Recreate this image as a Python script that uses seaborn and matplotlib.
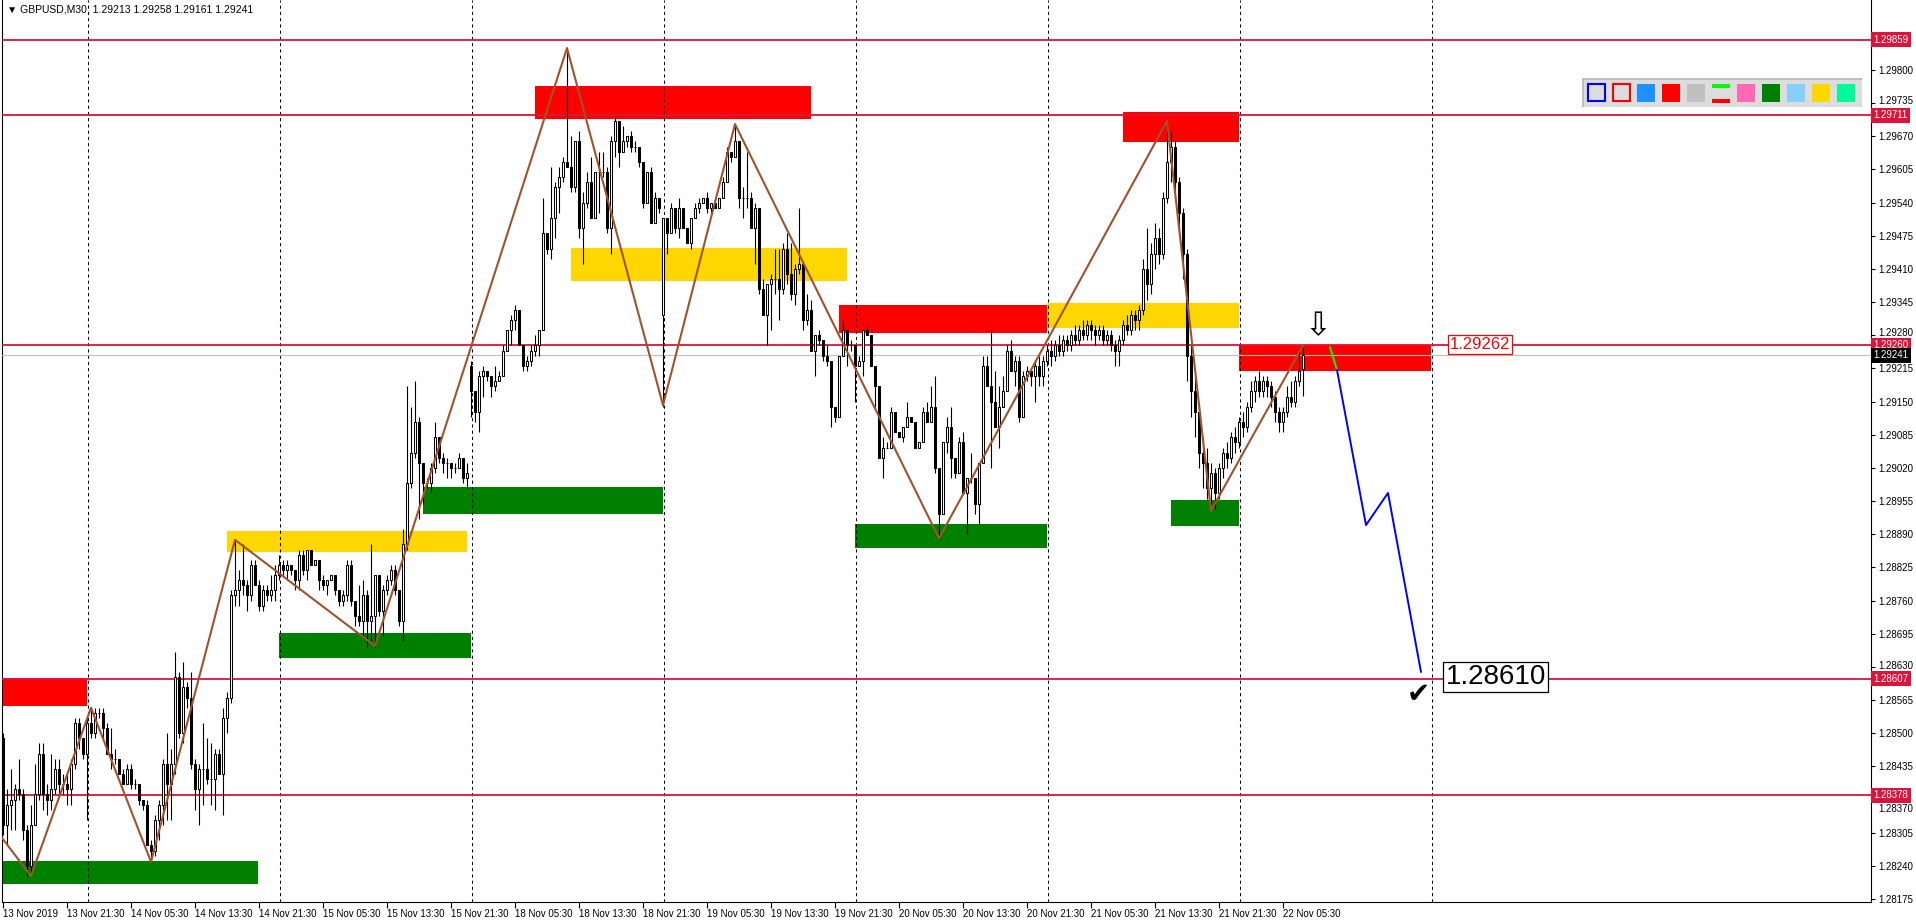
import numpy as np
import pandas as pd
import matplotlib
matplotlib.use('Agg')
import matplotlib.pyplot as plt
import matplotlib.transforms as mtransforms
from matplotlib.patches import Rectangle
import seaborn as sns

# GBPUSD M30 bars (open = previous close unless listed in gap_opens)
first_open = 1.2849
gap_opens = {117: 1.2922, 165: 1.2932, 325: 1.29213}

closes = [
    1.2832, 1.2836, 1.2837, 1.2839, 1.2838, 1.2831, 1.2824, 1.2832, 1.2838, 1.2846,
    1.2838, 1.2837, 1.2839, 1.2843, 1.2840, 1.2840, 1.2839, 1.2844, 1.2852, 1.2849,
    1.2846, 1.2852, 1.2850, 1.2854, 1.2854, 1.2851, 1.2846, 1.2845, 1.2845, 1.2842,
    1.2840, 1.2843, 1.2840, 1.2840, 1.2837, 1.2836, 1.2828, 1.2827, 1.2833, 1.2836,
    1.2844, 1.2840, 1.2844, 1.2861, 1.2850, 1.2859, 1.2857, 1.2844, 1.2839, 1.2843,
    1.2843, 1.2841, 1.2841, 1.2846, 1.2842, 1.2853, 1.2857, 1.2877, 1.2878, 1.2880,
    1.2879, 1.2877, 1.2883, 1.2879, 1.2875, 1.2878, 1.2877, 1.2878, 1.2881, 1.2883,
    1.2882, 1.2883, 1.2882, 1.2880, 1.2885, 1.2882, 1.2886, 1.2883, 1.2884, 1.2880,
    1.2879, 1.2880, 1.2881, 1.2878, 1.2876, 1.2877, 1.2883, 1.2876, 1.2873, 1.2872,
    1.2877, 1.2872, 1.2873, 1.2881, 1.2874, 1.2878, 1.2880, 1.2882, 1.2878, 1.2872,
    1.2887, 1.2899, 1.2905, 1.2911, 1.2903, 1.2899, 1.2899, 1.2902, 1.2908, 1.2904,
    1.2903, 1.2903, 1.2902, 1.2902, 1.2904, 1.2900, 1.2901, 1.2917, 1.2913, 1.2920,
    1.2921, 1.2920, 1.2918, 1.2919, 1.2920, 1.2925, 1.2929, 1.2931, 1.2933, 1.2926,
    1.2922, 1.2923, 1.2925, 1.2926, 1.2929, 1.2948, 1.2945, 1.2951, 1.2957, 1.2959,
    1.2962, 1.2961, 1.2957, 1.2966, 1.2949, 1.2954, 1.2958, 1.2951, 1.2960, 1.2960,
    1.2960, 1.2949, 1.2966, 1.2970, 1.2964, 1.2966, 1.2967, 1.2965, 1.2965, 1.2962,
    1.2954, 1.2960, 1.2950, 1.2955, 1.2953, 1.2951, 1.2948, 1.2953, 1.2949, 1.2953,
    1.2949, 1.2946, 1.2951, 1.2953, 1.2954, 1.2955, 1.2953, 1.2954, 1.2953, 1.2955,
    1.2958, 1.2964, 1.2963, 1.2966, 1.2955, 1.2955, 1.2955, 1.2949, 1.2953, 1.2937,
    1.2932, 1.2938, 1.2939, 1.2939, 1.2937, 1.2945, 1.2940, 1.2936, 1.2941, 1.2942,
    1.2931, 1.2933, 1.2925, 1.2928, 1.2927, 1.2924, 1.2923, 1.2914, 1.2912, 1.2924,
    1.2929, 1.2926, 1.2926, 1.2922, 1.2923, 1.2929, 1.2928, 1.2922, 1.2918, 1.2904,
    1.2906, 1.2906, 1.2913, 1.2909, 1.2908, 1.2910, 1.2912, 1.2911, 1.2906, 1.2907,
    1.2913, 1.2911, 1.2914, 1.2902, 1.2893, 1.2907, 1.2910, 1.2904, 1.2901, 1.2907,
    1.2897, 1.2900, 1.2900, 1.2895, 1.2903, 1.2922, 1.2918, 1.2915, 1.2910, 1.2914,
    1.2917, 1.2925, 1.2921, 1.2923, 1.2912, 1.2920, 1.2921, 1.2920, 1.2922, 1.2920,
    1.2923, 1.2925, 1.2924, 1.2926, 1.2925, 1.2927, 1.2926, 1.2928, 1.2927, 1.2929,
    1.2928, 1.2930, 1.2929, 1.2928, 1.2929, 1.2927, 1.2928, 1.2926, 1.2925, 1.2927,
    1.2930, 1.2929, 1.2932, 1.2931, 1.2933, 1.2941, 1.2938, 1.2944, 1.2947, 1.2944,
    1.2955, 1.2962, 1.2965, 1.2958, 1.2952, 1.2944, 1.2924, 1.2917, 1.2913, 1.2905,
    1.2903, 1.2898, 1.2901, 1.2897, 1.2902, 1.2905, 1.2904, 1.2908, 1.2907, 1.2911,
    1.2910, 1.2914, 1.2917, 1.2919, 1.2917, 1.2919, 1.2918, 1.2916, 1.2913, 1.2911,
    1.2913, 1.2916, 1.2915, 1.2919, 1.2921, 1.29241,
]
highs = [
    1.2850, 1.2839, 1.2843, 1.2840, 1.2845, 1.2839, 1.2832, 1.2836, 1.2844, 1.2848,
    1.2848, 1.2840, 1.2846, 1.2845, 1.2845, 1.2842, 1.2842, 1.2845, 1.2853, 1.2853,
    1.2849, 1.2853, 1.2855, 1.2855, 1.2855, 1.2855, 1.2852, 1.2851, 1.2847, 1.2845,
    1.2843, 1.2844, 1.2844, 1.2841, 1.2840, 1.2837, 1.2837, 1.2829, 1.2834, 1.2837,
    1.2845, 1.2850, 1.2847, 1.2866, 1.2862, 1.2864, 1.2860, 1.2862, 1.2845, 1.2844,
    1.2852, 1.2849, 1.2848, 1.2847, 1.2847, 1.2855, 1.2858, 1.2878, 1.2888, 1.2882,
    1.2887, 1.2880, 1.2884, 1.2884, 1.2880, 1.2879, 1.2879, 1.2881, 1.2883, 1.2885,
    1.2884, 1.2884, 1.2883, 1.2882, 1.2886, 1.2886, 1.2886, 1.2886, 1.2884, 1.2884,
    1.2881, 1.2880, 1.2881, 1.2881, 1.2878, 1.2878, 1.2884, 1.2884, 1.2876, 1.2879,
    1.2880, 1.2878, 1.2887, 1.2881, 1.2881, 1.2879, 1.2881, 1.2883, 1.2883, 1.2878,
    1.2890, 1.2918, 1.2914, 1.2919, 1.2912, 1.2903, 1.2900, 1.2903, 1.2911, 1.2908,
    1.2905, 1.2904, 1.2903, 1.2903, 1.2905, 1.2904, 1.2903, 1.2923, 1.2917, 1.2921,
    1.2922, 1.2921, 1.2920, 1.2922, 1.2921, 1.2926, 1.2929, 1.2932, 1.2934, 1.2933,
    1.2926, 1.2924, 1.2926, 1.2928, 1.2929, 1.2955, 1.2948, 1.2961, 1.2958, 1.2961,
    1.2963, 1.2984, 1.2967, 1.2966, 1.2968, 1.2956, 1.2960, 1.2963, 1.2960, 1.2964,
    1.2964, 1.2961, 1.2967, 1.2971, 1.2970, 1.2969, 1.2967, 1.2968, 1.2966, 1.2965,
    1.2962, 1.2960, 1.2961, 1.2956, 1.2955, 1.2951, 1.2951, 1.2954, 1.2953, 1.2955,
    1.2953, 1.2949, 1.2951, 1.2954, 1.2955, 1.2955, 1.2956, 1.2954, 1.2954, 1.2955,
    1.2959, 1.2965, 1.2964, 1.2969, 1.2966, 1.2957, 1.2964, 1.2956, 1.2954, 1.2953,
    1.2939, 1.2938, 1.2940, 1.2945, 1.2945, 1.2946, 1.2948, 1.2946, 1.2942, 1.2953,
    1.2942, 1.2936, 1.2935, 1.2928, 1.2929, 1.2927, 1.2926, 1.2923, 1.2914, 1.2924,
    1.2931, 1.2929, 1.2927, 1.2923, 1.2924, 1.2929, 1.2930, 1.2928, 1.2922, 1.2918,
    1.2908, 1.2907, 1.2914, 1.2913, 1.2909, 1.2910, 1.2915, 1.2912, 1.2911, 1.2907,
    1.2914, 1.2915, 1.2918, 1.2920, 1.2902, 1.2907, 1.2912, 1.2914, 1.2904, 1.2908,
    1.2909, 1.2900, 1.2905, 1.2900, 1.2903, 1.2924, 1.2924, 1.2929, 1.2921, 1.2918,
    1.2920, 1.2926, 1.2927, 1.2924, 1.2924, 1.2921, 1.2922, 1.2921, 1.2923, 1.2924,
    1.2924, 1.2926, 1.2927, 1.2927, 1.2928, 1.2928, 1.2928, 1.2929, 1.2930, 1.2930,
    1.2931, 1.2931, 1.2931, 1.2930, 1.2930, 1.2930, 1.2929, 1.2929, 1.2927, 1.2928,
    1.2931, 1.2932, 1.2933, 1.2933, 1.2934, 1.2943, 1.2949, 1.2946, 1.2950, 1.2949,
    1.2956, 1.2970, 1.2968, 1.2966, 1.2959, 1.2953, 1.2945, 1.2926, 1.2920, 1.2914,
    1.2908, 1.2906, 1.2903, 1.2902, 1.2903, 1.2906, 1.2907, 1.2909, 1.2910, 1.2912,
    1.2913, 1.2915, 1.2919, 1.2920, 1.2921, 1.2920, 1.2920, 1.2919, 1.2917, 1.2914,
    1.2914, 1.2918, 1.2919, 1.2920, 1.2925, 1.29258,
]
lows = [
    1.2830, 1.2828, 1.2831, 1.2831, 1.2837, 1.2829, 1.2822, 1.2822, 1.2832, 1.2837,
    1.2835, 1.2834, 1.2835, 1.2838, 1.2838, 1.2838, 1.2836, 1.2836, 1.2843, 1.2847,
    1.2845, 1.2833, 1.2849, 1.2849, 1.2853, 1.2849, 1.2846, 1.2843, 1.2844, 1.2842,
    1.2840, 1.2840, 1.2839, 1.2839, 1.2836, 1.2835, 1.2828, 1.2825, 1.2826, 1.2829,
    1.2832, 1.2833, 1.2833, 1.2842, 1.2849, 1.2848, 1.2855, 1.2843, 1.2835, 1.2832,
    1.2836, 1.2840, 1.2836, 1.2835, 1.2842, 1.2834, 1.2850, 1.2856, 1.2875, 1.2875,
    1.2877, 1.2874, 1.2876, 1.2879, 1.2874, 1.2874, 1.2876, 1.2876, 1.2876, 1.2880,
    1.2881, 1.2880, 1.2881, 1.2878, 1.2878, 1.2881, 1.2880, 1.2883, 1.2883, 1.2878,
    1.2878, 1.2877, 1.2880, 1.2877, 1.2875, 1.2875, 1.2876, 1.2875, 1.2871, 1.2871,
    1.2869, 1.2867, 1.2868, 1.2867, 1.2873, 1.2869, 1.2877, 1.2879, 1.2877, 1.2871,
    1.2868, 1.2886, 1.2898, 1.2904, 1.2892, 1.2895, 1.2898, 1.2897, 1.2901, 1.2903,
    1.2901, 1.2900, 1.2900, 1.2901, 1.2902, 1.2899, 1.2898, 1.2912, 1.2911, 1.2909,
    1.2916, 1.2919, 1.2916, 1.2917, 1.2919, 1.2920, 1.2925, 1.2926, 1.2929, 1.2926,
    1.2921, 1.2921, 1.2922, 1.2924, 1.2924, 1.2929, 1.2944, 1.2943, 1.2947, 1.2952,
    1.2958, 1.2961, 1.2956, 1.2956, 1.2947, 1.2942, 1.2953, 1.2951, 1.2951, 1.2952,
    1.2959, 1.2948, 1.2944, 1.2963, 1.2961, 1.2964, 1.2965, 1.2964, 1.2964, 1.2961,
    1.2953, 1.2954, 1.2950, 1.2950, 1.2952, 1.2914, 1.2944, 1.2948, 1.2948, 1.2947,
    1.2949, 1.2946, 1.2945, 1.2951, 1.2952, 1.2954, 1.2952, 1.2952, 1.2953, 1.2953,
    1.2955, 1.2958, 1.2962, 1.2963, 1.2953, 1.2951, 1.2953, 1.2949, 1.2942, 1.2936,
    1.2932, 1.2926, 1.2929, 1.2936, 1.2931, 1.2936, 1.2938, 1.2935, 1.2934, 1.2940,
    1.2929, 1.2930, 1.2925, 1.2920, 1.2926, 1.2923, 1.2922, 1.2910, 1.2911, 1.2912,
    1.2924, 1.2922, 1.2925, 1.2915, 1.2922, 1.2920, 1.2928, 1.2922, 1.2914, 1.2904,
    1.2900, 1.2906, 1.2906, 1.2909, 1.2908, 1.2907, 1.2910, 1.2911, 1.2906, 1.2906,
    1.2907, 1.2911, 1.2911, 1.2901, 1.2888, 1.2893, 1.2905, 1.2900, 1.2900, 1.2901,
    1.2897, 1.2889, 1.2899, 1.2893, 1.2891, 1.2903, 1.2918, 1.2902, 1.2910, 1.2906,
    1.2914, 1.2917, 1.2921, 1.2918, 1.2911, 1.2912, 1.2919, 1.2918, 1.2915, 1.2918,
    1.2918, 1.2922, 1.2922, 1.2923, 1.2924, 1.2924, 1.2925, 1.2925, 1.2926, 1.2926,
    1.2927, 1.2927, 1.2927, 1.2926, 1.2927, 1.2926, 1.2926, 1.2925, 1.2922, 1.2922,
    1.2926, 1.2928, 1.2928, 1.2929, 1.2929, 1.2932, 1.2935, 1.2936, 1.2941, 1.2942,
    1.2943, 1.2954, 1.2958, 1.2955, 1.2948, 1.2939, 1.2919, 1.2912, 1.2908, 1.2902,
    1.2898, 1.2896, 1.2895, 1.2894, 1.2896, 1.2900, 1.2902, 1.2903, 1.2905, 1.2906,
    1.2908, 1.2909, 1.2913, 1.2915, 1.2916, 1.2916, 1.2916, 1.2914, 1.2911, 1.2909,
    1.2909, 1.2912, 1.2914, 1.2914, 1.2918, 1.29161,
]

# time axis labels (every 16 bars) and day separators
x_labels = ['13 Nov 2019', '13 Nov 21:30', '14 Nov 05:30', '14 Nov 13:30', '14 Nov 21:30',
            '15 Nov 05:30', '15 Nov 13:30', '15 Nov 21:30', '18 Nov 05:30', '18 Nov 13:30',
            '18 Nov 21:30', '19 Nov 05:30', '19 Nov 13:30', '19 Nov 21:30', '20 Nov 05:30',
            '20 Nov 13:30', '20 Nov 21:30', '21 Nov 05:30', '21 Nov 13:30', '21 Nov 21:30',
            '22 Nov 05:30']
day_bars = [21, 69, 117, 165, 213, 261, 309, 357]

y_ticks = [1.28175, 1.28240, 1.28305, 1.28370, 1.28435, 1.28500, 1.28565, 1.28630,
           1.28695, 1.28760, 1.28825, 1.28890, 1.28955, 1.29020, 1.29085, 1.29150,
           1.29215, 1.29280, 1.29345, 1.29410, 1.29475, 1.29540, 1.29605, 1.29670,
           1.29735, 1.29800]
# tick labels nudged (pixels, + = up) so they clear the price tags, as the terminal does
y_tick_nudge = {1.29735: 3, 1.29280: 3, 1.28630: 2, 1.28370: -8}

# horizontal levels and current bid
levels = [1.29859, 1.29711, 1.29260, 1.28607, 1.28378]
bid = 1.29241

# supply / demand zones
zone_start = [0, -0.25, 56, 69, 105, 133, 142, 209, 213, 261, 280, 292, 309]
zone_end = [21, 63.75, 116, 117, 165, 202, 211, 261, 261, 309, 309, 309, 357]
zone_low = [1.28553, 1.28204, 1.28855, 1.28647, 1.28930, 1.29704, 1.29386,
            1.29284, 1.28863, 1.29294, 1.29659, 1.28906, 1.29210]
zone_high = [1.28608, 1.28249, 1.28896, 1.28696, 1.28983, 1.29769, 1.29451,
             1.29339, 1.28910, 1.29343, 1.29718, 1.28957, 1.29261]
zone_kind = ['supply', 'demand', 'middle', 'demand', 'demand', 'supply', 'middle',
             'supply', 'demand', 'middle', 'supply', 'demand', 'supply']

# zigzag swing points
zz_bar = [-0.75, 7, 22, 37, 58, 93, 141, 165, 183, 234, 291, 302, 325]
zz_price = [1.2830, 1.2822, 1.2855, 1.28248, 1.28879, 1.28671, 1.29843,
            1.29143, 1.29694, 1.28882, 1.2970, 1.28936, 1.29260]

# projected path
proj_green_bar = [331.75, 333.5]
proj_green_price = [1.29257, 1.29212]
proj_blue_bar = [333.5, 340.75, 346.25, 354.5]
proj_blue_price = [1.29212, 1.28908, 1.28971, 1.28620]
target = 1.28610
entry_label = 1.29262

palette_colors = ['box_blue', 'box_red', '#1E90FF', '#FF0000', '#C0C0C0', 'pair',
                  '#FF69B4', '#008000', '#87CEFA', '#FFD700', '#00FA9A']

zone_colors = {'supply': '#FF0000', 'demand': '#008000', 'middle': '#FFD700'}
CRIMSON = '#DC143C'

# ---- build bars
bars = pd.DataFrame({'close': closes, 'high': highs, 'low': lows})
bars['open'] = [first_open] + closes[:-1]
for i, o in gap_opens.items():
    bars.loc[i, 'open'] = o
bars['bar'] = np.arange(len(bars))

sns.set_theme(style='white')
plt.rcParams['font.family'] = ['Liberation Sans', 'DejaVu Sans']

W, H = 1916, 923
fig = plt.figure(figsize=(W / 100, H / 100), dpi=100)
ax = fig.add_axes([2 / W, 21 / H, 1869 / W, 902 / H])
ax.set_facecolor('white')
ax.set_xlim(-0.25, 467)
ax.set_ylim(1.281692, 1.299372)

# zones
for x0, x1, lo, hi, k in zip(zone_start, zone_end, zone_low, zone_high, zone_kind):
    ax.add_patch(Rectangle((x0, lo), x1 - x0, hi - lo, facecolor=zone_colors[k],
                           edgecolor='none', zorder=1))

# day separators
for d in day_bars:
    ax.axvline(d + 0.15, color='black', lw=0.75, ls=(0, (3, 3)), zorder=2)

# levels
for lv in levels:
    ax.axhline(lv, color=CRIMSON, lw=1.3, zorder=3)
ax.axhline(bid, color='#C0C0C0', lw=0.8, zorder=3)

# candles
up = bars['close'] >= bars['open']
ax.vlines(bars['bar'], bars['low'], bars['high'], color='black', lw=0.8, zorder=4)
ax.bar(bars['bar'], bars['close'] - bars['open'], bottom=bars['open'], width=0.72,
       color=np.where(up, 'white', 'black'), edgecolor='black', linewidth=0.75, zorder=5)

# zigzag and projection
sns.lineplot(x=zz_bar, y=zz_price, sort=False, estimator=None, color='#A0522D',
             lw=1.5, ax=ax, zorder=6)
sns.lineplot(x=proj_green_bar, y=proj_green_price, sort=False, estimator=None,
             color='#00FF00', lw=1.4, ax=ax, zorder=6)
sns.lineplot(x=proj_blue_bar, y=proj_blue_price, sort=False, estimator=None,
             color='#0000FF', lw=1.4, ax=ax, zorder=6)

# annotations
ax.text(proj_green_bar[0] - 3, entry_label + 0.00036, '\u21e9', fontsize=23,
        family=['DejaVu Sans'], ha='center', va='center', color='black', zorder=7)
ax.text(proj_blue_bar[-1] - 0.6, target - 0.00034, '\u2714', fontsize=20,
        family=['DejaVu Sans'], ha='center', va='center', color='black', zorder=7)
ax.text(360.6, target, f'{target:.5f}', fontsize=20, ha='left', va='center',
        color='black', zorder=7,
        bbox=dict(boxstyle='square,pad=0.08', fc='white', ec='black', lw=0.9))
ax.text(361.6, entry_label, f'{entry_label:.5f}', fontsize=12, ha='left', va='center',
        color='#FF0000', zorder=7,
        bbox=dict(boxstyle='square,pad=0.1', fc='white', ec='#FF0000', lw=0.9))

last = bars.iloc[-1]
ax.text(0.0025, 0.989, f"\u25bc GBPUSD,M30  {last['open']:.5f} {last['high']:.5f} "
        f"{last['low']:.5f} {last['close']:.5f}", transform=ax.transAxes,
        fontsize=7.5, ha='left', va='center', color='black', zorder=8)

# axes styling
ax.spines['top'].set_visible(False)
for s in ['left', 'right', 'bottom']:
    ax.spines[s].set_color('black')
    ax.spines[s].set_linewidth(0.8)
ax.yaxis.tick_right()
ax.set_yticks(y_ticks)
ax.set_yticklabels([f'{t:.5f}' for t in y_ticks])
ax.set_xticks(np.arange(len(x_labels)) * 16)
ax.set_xticklabels(x_labels, ha='left')
ax.tick_params(axis='y', which='major', right=True, left=False, length=3, width=0.8,
               pad=2, labelsize=7, colors='black')
ax.tick_params(axis='x', which='major', bottom=True, length=4, width=0.8, pad=1,
               labelsize=7, colors='black')
ax.grid(False)
for t, lab in zip(y_ticks, ax.get_yticklabels()):
    dy = y_tick_nudge.get(t, 0)
    if dy:
        lab.set_transform(lab.get_transform() +
                          mtransforms.ScaledTranslation(0, dy / 100, fig.dpi_scale_trans))

# price tags on the right axis
trans = mtransforms.blended_transform_factory(ax.transAxes, ax.transData)
for lv in levels:
    ax.text(1.0012, lv, f'{lv:.5f}', transform=trans, fontsize=7, color='white',
            ha='left', va='center', clip_on=False, zorder=10,
            bbox=dict(boxstyle='square,pad=0.25', fc=CRIMSON, ec='none'))
ax.text(1.0012, bid, f'{bid:.5f}', transform=trans, fontsize=7, color='white',
        ha='left', va='center', clip_on=False, zorder=10,
        bbox=dict(boxstyle='square,pad=0.25', fc='black', ec='none'))

# colour toolbar (top right)
def fx(px):
    return px / W

def fy(py):
    return 1 - py / H

fig.add_artist(Rectangle((fx(1582), fy(107)), fx(280), 29 / H, transform=fig.transFigure,
                         facecolor='#DCDCDC', edgecolor='none', zorder=20))
fig.add_artist(Rectangle((fx(1582), fy(80)), fx(280), 2 / H, transform=fig.transFigure,
                         facecolor='#BEBEBE', edgecolor='none', zorder=21))
fig.add_artist(Rectangle((fx(1582), fy(107)), fx(2), 29 / H, transform=fig.transFigure,
                         facecolor='#BEBEBE', edgecolor='none', zorder=21))
for k, c in enumerate(palette_colors):
    x0 = 1587 + 25 * k
    if c in ('box_blue', 'box_red'):
        fig.add_artist(Rectangle((fx(x0 + 1), fy(101)), fx(17), 17 / H,
                                 transform=fig.transFigure, facecolor='#DCDCDC',
                                 edgecolor='#0000FF' if c == 'box_blue' else '#FF0000',
                                 lw=1.5, zorder=22))
    elif c == 'pair':
        fig.add_artist(Rectangle((fx(x0), fy(88)), fx(18), 4 / H,
                                 transform=fig.transFigure, facecolor='#00FF00',
                                 edgecolor='none', zorder=22))
        fig.add_artist(Rectangle((fx(x0), fy(103)), fx(18), 4 / H,
                                 transform=fig.transFigure, facecolor='#FF0000',
                                 edgecolor='none', zorder=22))
    else:
        fig.add_artist(Rectangle((fx(x0), fy(102)), fx(18), 18 / H,
                                 transform=fig.transFigure, facecolor=c,
                                 edgecolor='none', zorder=22))

fig.savefig('out.png', dpi=100)
